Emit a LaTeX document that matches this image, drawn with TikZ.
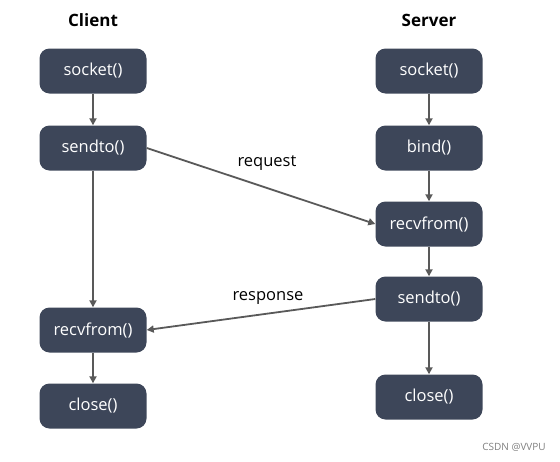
\documentclass[tikz,border=0pt]{standalone}
\usepackage{fontspec}
\setmainfont{Open Sans}
\usetikzlibrary{arrows.meta}
\definecolor{boxc}{HTML}{3D4659}
\definecolor{arrc}{HTML}{595959}
\begin{document}
\begin{tikzpicture}[x=1pt,y=-1pt,
  fbox/.style={draw=none,fill=boxc,rounded corners=10pt,minimum width=107pt,minimum height=45pt,text=white,font=\fontsize{16.5}{18}\selectfont,inner sep=0pt},
  conn/.style={draw=arrc,line width=1.8pt,-{Triangle[length=7pt,width=7pt]}},
  hdr/.style={font=\fontsize{17}{20}\selectfont\bfseries,text=black},
  lbl/.style={font=\fontsize{16.5}{18}\selectfont,text=black}]
\useasboundingbox (0,0) rectangle (560,461);
\node[hdr] (ch) at (93,20) {Client};
\node[hdr] (sh) at (429,20) {Server};
\node[fbox] (c1) at (93,71) {socket()};
\node[fbox] (c2) at (93,148) {sendto()};
\node[fbox] (c3) at (93,330) {recvfrom()};
\node[fbox] (c4) at (93,406) {close()};
\node[fbox] (s1) at (429,71) {socket()};
\node[fbox] (s2) at (429,148) {bind()};
\node[fbox] (s3) at (429,224) {recvfrom()};
\node[fbox] (s4) at (429,299) {sendto()};
\node[fbox] (s5) at (429,397) {close()};
\draw[conn] (c1) -- (c2);
\draw[conn] (c2) -- (c3);
\draw[conn] (c3) -- (c4);
\draw[conn] (s1) -- (s2);
\draw[conn] (s2) -- (s3);
\draw[conn] (s3) -- (s4);
\draw[conn] (s4) -- (s5);
\draw[conn] (c2.east) -- (s3.west);
\draw[conn] (s4.west) -- (c3.east);
\node[lbl] (rq) at (267,163) {request};
\node[lbl] (rs) at (268,298) {response};
\node[font=\fontsize{10}{12}\selectfont,text=black!50] (wm) at (514,447) {CSDN @VVPU};
\end{tikzpicture}
\end{document}
